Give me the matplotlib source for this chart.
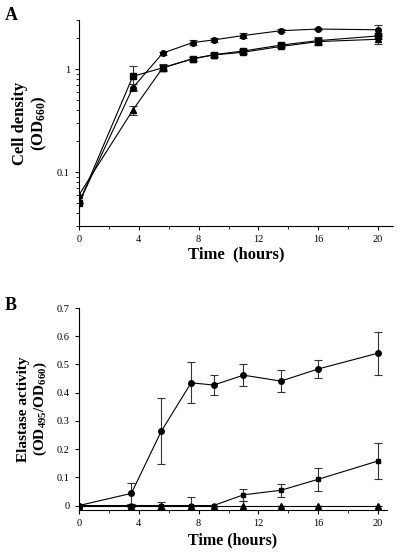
import matplotlib.pyplot as plt
from matplotlib.ticker import MultipleLocator, LogLocator, NullFormatter, FixedFormatter, FixedLocator

# panel A: cell density (OD660), log scale
time_a = [0, 3.6, 5.6, 7.6, 9, 11, 13.5, 16, 20]
circ_a = [0.05, 0.66, 1.43, 1.81, 1.92, 2.12, 2.36, 2.45, 2.41]
circ_a_err = [0.0, 0.05, 0.05, 0.1, 0.1, 0.12, 0.08, 0.06, 0.3]
sq_a = [0.05, 0.85, 1.03, 1.26, 1.38, 1.50, 1.71, 1.89, 2.10]
sq_a_err = [0.0, 0.22, 0.08, 0.05, 0.06, 0.08, 0.08, 0.14, 0.15]
tri_a = [0.06, 0.40, 1.03, 1.26, 1.37, 1.46, 1.66, 1.85, 1.95]
tri_a_err = [0.0, 0.04, 0.06, 0.05, 0.05, 0.06, 0.07, 0.12, 0.2]

# panel B: elastase activity (OD495/OD660)
time_b = [0, 3.5, 5.5, 7.5, 9, 11, 13.5, 16, 20]
circ_b = [0.0, 0.043, 0.263, 0.435, 0.427, 0.462, 0.441, 0.484, 0.540]
circ_b_err = [0.0, 0.036, 0.117, 0.073, 0.037, 0.040, 0.040, 0.031, 0.076]
sq_b = [0.0, 0.0, 0.0, 0.0, 0.0, 0.038, 0.054, 0.093, 0.158]
sq_b_err = [0.0, 0.0, 0.0, 0.0, 0.0, 0.021, 0.023, 0.040, 0.063]
tri_b = [0.0, 0.0, 0.0, 0.0, 0.0, 0.0, 0.0, 0.0, 0.0]
tri_b_err = [0.0, 0.004, 0.012, 0.029, 0.0, 0.015, 0.0, 0.0, 0.0]

SERIF = "Liberation Serif"
plt.rcParams["font.family"] = SERIF
plt.rcParams["mathtext.fontset"] = "custom"
plt.rcParams["mathtext.rm"] = "Liberation Serif:bold"
plt.rcParams["mathtext.bf"] = "Liberation Serif:bold"
plt.rcParams["mathtext.it"] = "Liberation Serif:bold"

fig = plt.figure(figsize=(4, 5.55), dpi=100)
ax1 = fig.add_axes([0.1975, 0.593, 0.785, 0.371])
ax2 = fig.add_axes([0.1975, 0.081, 0.77, 0.364])


def draw(ax, t, y, err, marker, ms):
    ax.errorbar(t, y, yerr=err, color="black", lw=0.8, marker=marker, ms=ms,
                mfc="black", mec="black", ecolor="#333333", elinewidth=0.8,
                capsize=3, capthick=0.8)


def style(ax):
    for s in ["top", "right"]:
        ax.spines[s].set_visible(False)
    for s in ["left", "bottom"]:
        ax.spines[s].set_linewidth(0.8)
    ax.xaxis.set_major_locator(MultipleLocator(4))
    ax.xaxis.set_minor_locator(MultipleLocator(2))
    ax.tick_params(which="major", direction="out", length=3, width=0.8, labelsize=7.5)
    ax.tick_params(which="minor", direction="out", length=2, width=0.6)


draw(ax1, time_a, circ_a, circ_a_err, "o", 4)
draw(ax1, time_a, sq_a, sq_a_err, "s", 4)
draw(ax1, time_a, tri_a, tri_a_err, "^", 4.5)
ax1.set_yscale("log")
ax1.set_ylim(0.03, 3.0)
ax1.set_xlim(0, 21)
style(ax1)
ax1.yaxis.set_major_locator(FixedLocator([0.1, 1]))
ax1.yaxis.set_major_formatter(FixedFormatter(["0.1", "1"]))
ax1.yaxis.set_minor_locator(LogLocator(base=10, subs=range(2, 10)))
ax1.yaxis.set_minor_formatter(NullFormatter())
ax1.set_xlabel("Time  (hours)", fontsize=12, fontweight="bold", labelpad=2)
ax1.set_ylabel("Cell density\n(OD$_{660}$)", fontsize=12, fontweight="bold",
               linespacing=1.1, labelpad=6)

draw(ax2, time_b, circ_b, circ_b_err, "o", 4)
draw(ax2, time_b, sq_b, sq_b_err, "s", 3.5)
draw(ax2, time_b, tri_b, tri_b_err, "^", 4)
ax2.set_ylim(-0.016, 0.7)
ax2.set_xlim(0, 20.6)
style(ax2)
ax2.yaxis.set_major_locator(FixedLocator([0, 0.1, 0.2, 0.3, 0.4, 0.5, 0.6, 0.7]))
ax2.yaxis.set_major_formatter(FixedFormatter(["0", "0.1", "0.2", "0.3", "0.4", "0.5", "0.6", "0.7"]))
ax2.set_xlabel("Time (hours)", fontsize=11.5, fontweight="bold", labelpad=3)
ax2.set_ylabel("Elastase activity\n(OD$_{495}$/OD$_{660}$)", fontsize=11,
               fontweight="bold", linespacing=1.1, labelpad=6)

fig.text(0.012, 0.972, "A", fontsize=13, fontweight="bold", ha="left", va="center")
fig.text(0.012, 0.45, "B", fontsize=13, fontweight="bold", ha="left", va="center")

fig.savefig("out.png", dpi=100)
